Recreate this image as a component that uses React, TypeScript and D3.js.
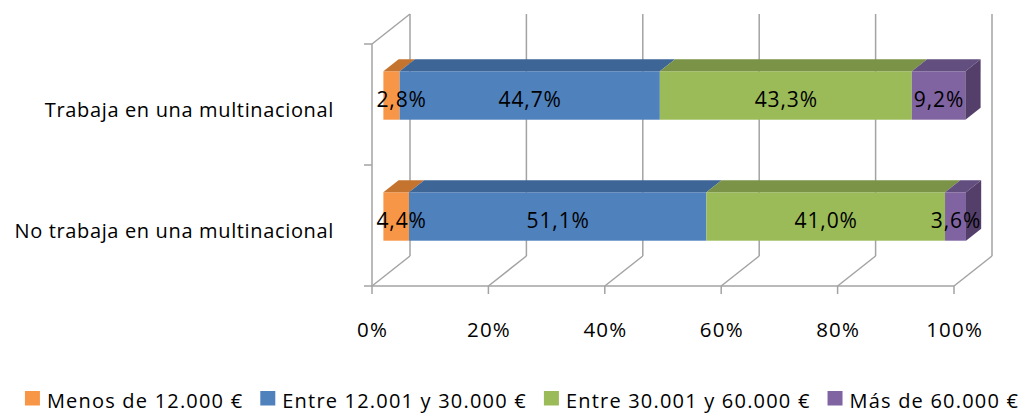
import React from "react";
import * as d3 from "d3";

const categories = ["Trabaja en una multinacional", "No trabaja en una multinacional"];
const seriesNames = ["Menos de 12.000 €", "Entre 12.001 y 30.000 €", "Entre 30.001 y 60.000 €", "Más de 60.000 €"];
const menos12 = [2.8, 4.4];
const entre12y30 = [44.7, 51.1];
const entre30y60 = [43.3, 41.0];
const mas60 = [9.2, 3.6];
const valueTicks = [0, 20, 40, 60, 80, 100];
const valueTickLabels = ["0%", "20%", "40%", "60%", "80%", "100%"];

const frontColors = ["#F79646", "#4F81BD", "#9BBB59", "#8064A2"];
const topColors = ["#C5742F", "#3D6596", "#7A9346", "#634E80"];
const sideColors = ["#A9612A", "#34567F", "#68803A", "#533F6A"];

const FONT = '"Open Sans", "Liberation Sans", sans-serif';
const GRID = "#a3a3a3";

function measure(text: string, size: number, ls: number) {
  const ctx = document.createElement("canvas").getContext("2d");
  if (!ctx) return text.length * size * 0.55;
  ctx.font = `${size}px "Open Sans"`;
  return ctx.measureText(text).width + ls * text.length;
}

const fmt = (v: number) => v.toFixed(1).replace(".", ",") + "%";

export default function App() {
  const W = 1026, H = 413;
  const x0 = 372, x1 = 954, topY = 44, floorY = 286;
  const DX = 38, DY = -30;
  const z1 = 0.3, z2 = 0.7;

  const x = d3.scaleLinear().domain([0, 100]).range([x0, x1]);
  const y = d3.scaleBand<string>().domain(categories).range([topY, floorY]).paddingInner(0.6).paddingOuter(0.3);

  const rows = categories.map((c, i) => ({
    cat: c,
    s0: menos12[i],
    s1: entre12y30[i],
    s2: entre30y60[i],
    s3: mas60[i],
  }));
  const keys = ["s0", "s1", "s2", "s3"];
  const stacked = d3.stack<any>().keys(keys)(rows);

  const ox1 = DX * z1, oy1 = DY * z1, ox2 = DX * z2, oy2 = DY * z2;
  const bw = y.bandwidth();

  const pts = (p: number[][]) => p.map((q) => q.join(",")).join(" ");

  // legend layout
  const legSize = 20, legLs = 1.2, sq = 15, sqGap = 7, itemGap = 17;
  const legWidths = seriesNames.map((n) => sq + sqGap + measure(n, legSize, legLs));
  const legTotal = d3.sum(legWidths) + itemGap * (seriesNames.length - 1);
  let lx = 522 - legTotal / 2;
  const legPos = legWidths.map((w) => {
    const p = lx;
    lx += w + itemGap;
    return p;
  });

  const lastIdx = keys.length - 1;
  const dlSize = 21, dlLs = 0.9;

  return (
    <svg width={W} height={H} style={{ position: "absolute", left: 0, top: 0, background: "#fff" }} fontFamily={FONT}>
      {/* back wall gridlines */}
      {valueTicks.map((t) => (
        <line key={"bg" + t} x1={x(t) + DX} x2={x(t) + DX} y1={floorY + DY} y2={topY + DY} stroke={GRID} strokeWidth={1.5} />
      ))}
      {/* floor diagonals */}
      {valueTicks.map((t) => (
        <line key={"fd" + t} x1={x(t)} x2={x(t) + DX} y1={floorY} y2={floorY + DY} stroke={GRID} strokeWidth={1.5} />
      ))}
      {/* left wall top diagonal */}
      <line x1={x0} y1={topY} x2={x0 + DX} y2={topY + DY} stroke={GRID} strokeWidth={1.5} />
      {/* category axis */}
      <line x1={x0} x2={x0} y1={topY} y2={floorY} stroke={GRID} strokeWidth={1.5} />
      {[topY, ...categories.map((c) => (y(c) as number) + bw + (y.step() - bw) / 2)].map((v, i) => (
        <line key={"ct" + i} x1={x0 - 8} x2={x0} y1={i === 0 ? topY : v} y2={i === 0 ? topY : v} stroke={GRID} strokeWidth={1.5} />
      ))}
      {/* value axis */}
      <line x1={x0} x2={x1} y1={floorY} y2={floorY} stroke={GRID} strokeWidth={1.5} />
      {valueTicks.map((t) => (
        <line key={"vt" + t} x1={x(t)} x2={x(t)} y1={floorY} y2={floorY + 8} stroke={GRID} strokeWidth={1.5} />
      ))}
      {valueTicks.map((t, i) => (
        <text key={"vl" + t} x={x(t) + 0.6} y={337} textAnchor="middle" fontSize={20.5} letterSpacing={1.2} fill="#000">
          {valueTickLabels[i]}
        </text>
      ))}

      {/* category labels */}
      {categories.map((c) => (
        <text key={"cl" + c} x={334} y={(y(c) as number) + bw / 2 + 12} textAnchor="end" fontSize={20} letterSpacing={0.65} fill="#000">
          {c}
        </text>
      ))}

      {/* bars */}
      {rows.map((r, ri) => {
        const by = y(r.cat) as number;
        return (
          <g key={"bar" + ri}>
            {stacked.map((s, si) => {
              const a = x(s[ri][0]), b = x(s[ri][1]);
              return (
                <g key={"seg" + si}>
                  <rect x={a + ox1} y={by + oy1} width={b - a} height={bw} fill={frontColors[si]} />
                  <polygon
                    points={pts([
                      [a + ox1, by + oy1],
                      [b + ox1, by + oy1],
                      [b + ox2, by + oy2],
                      [a + ox2, by + oy2],
                    ])}
                    fill={topColors[si]}
                  />
                  {si === lastIdx && (
                    <polygon
                      points={pts([
                        [b + ox1, by + oy1],
                        [b + ox2, by + oy2],
                        [b + ox2, by + oy2 + bw],
                        [b + ox1, by + oy1 + bw],
                      ])}
                      fill={sideColors[si]}
                    />
                  )}
                </g>
              );
            })}
            {stacked.map((s, si) => {
              const label = fmt(s[ri][1] - s[ri][0]);
              const w = measure(label, dlSize, dlLs);
              let cx = x((s[ri][0] + s[ri][1]) / 2) + ox1;
              cx = Math.max(cx, x0 + 4 + w / 2);
              return (
                <text key={"dl" + si} x={cx + dlLs / 2} y={by + oy1 + bw / 2 + 11.5} textAnchor="middle" fontSize={dlSize} letterSpacing={dlLs} fill="#000">
                  {label}
                </text>
              );
            })}
          </g>
        );
      })}

      {/* legend */}
      {seriesNames.map((n, i) => (
        <g key={"lg" + i}>
          <rect x={legPos[i]} y={391} width={sq} height={14.5} fill={frontColors[i]} />
          <text x={legPos[i] + sq + sqGap} y={408} fontSize={legSize} letterSpacing={legLs} fill="#000">
            {n}
          </text>
        </g>
      ))}
    </svg>
  );
}
